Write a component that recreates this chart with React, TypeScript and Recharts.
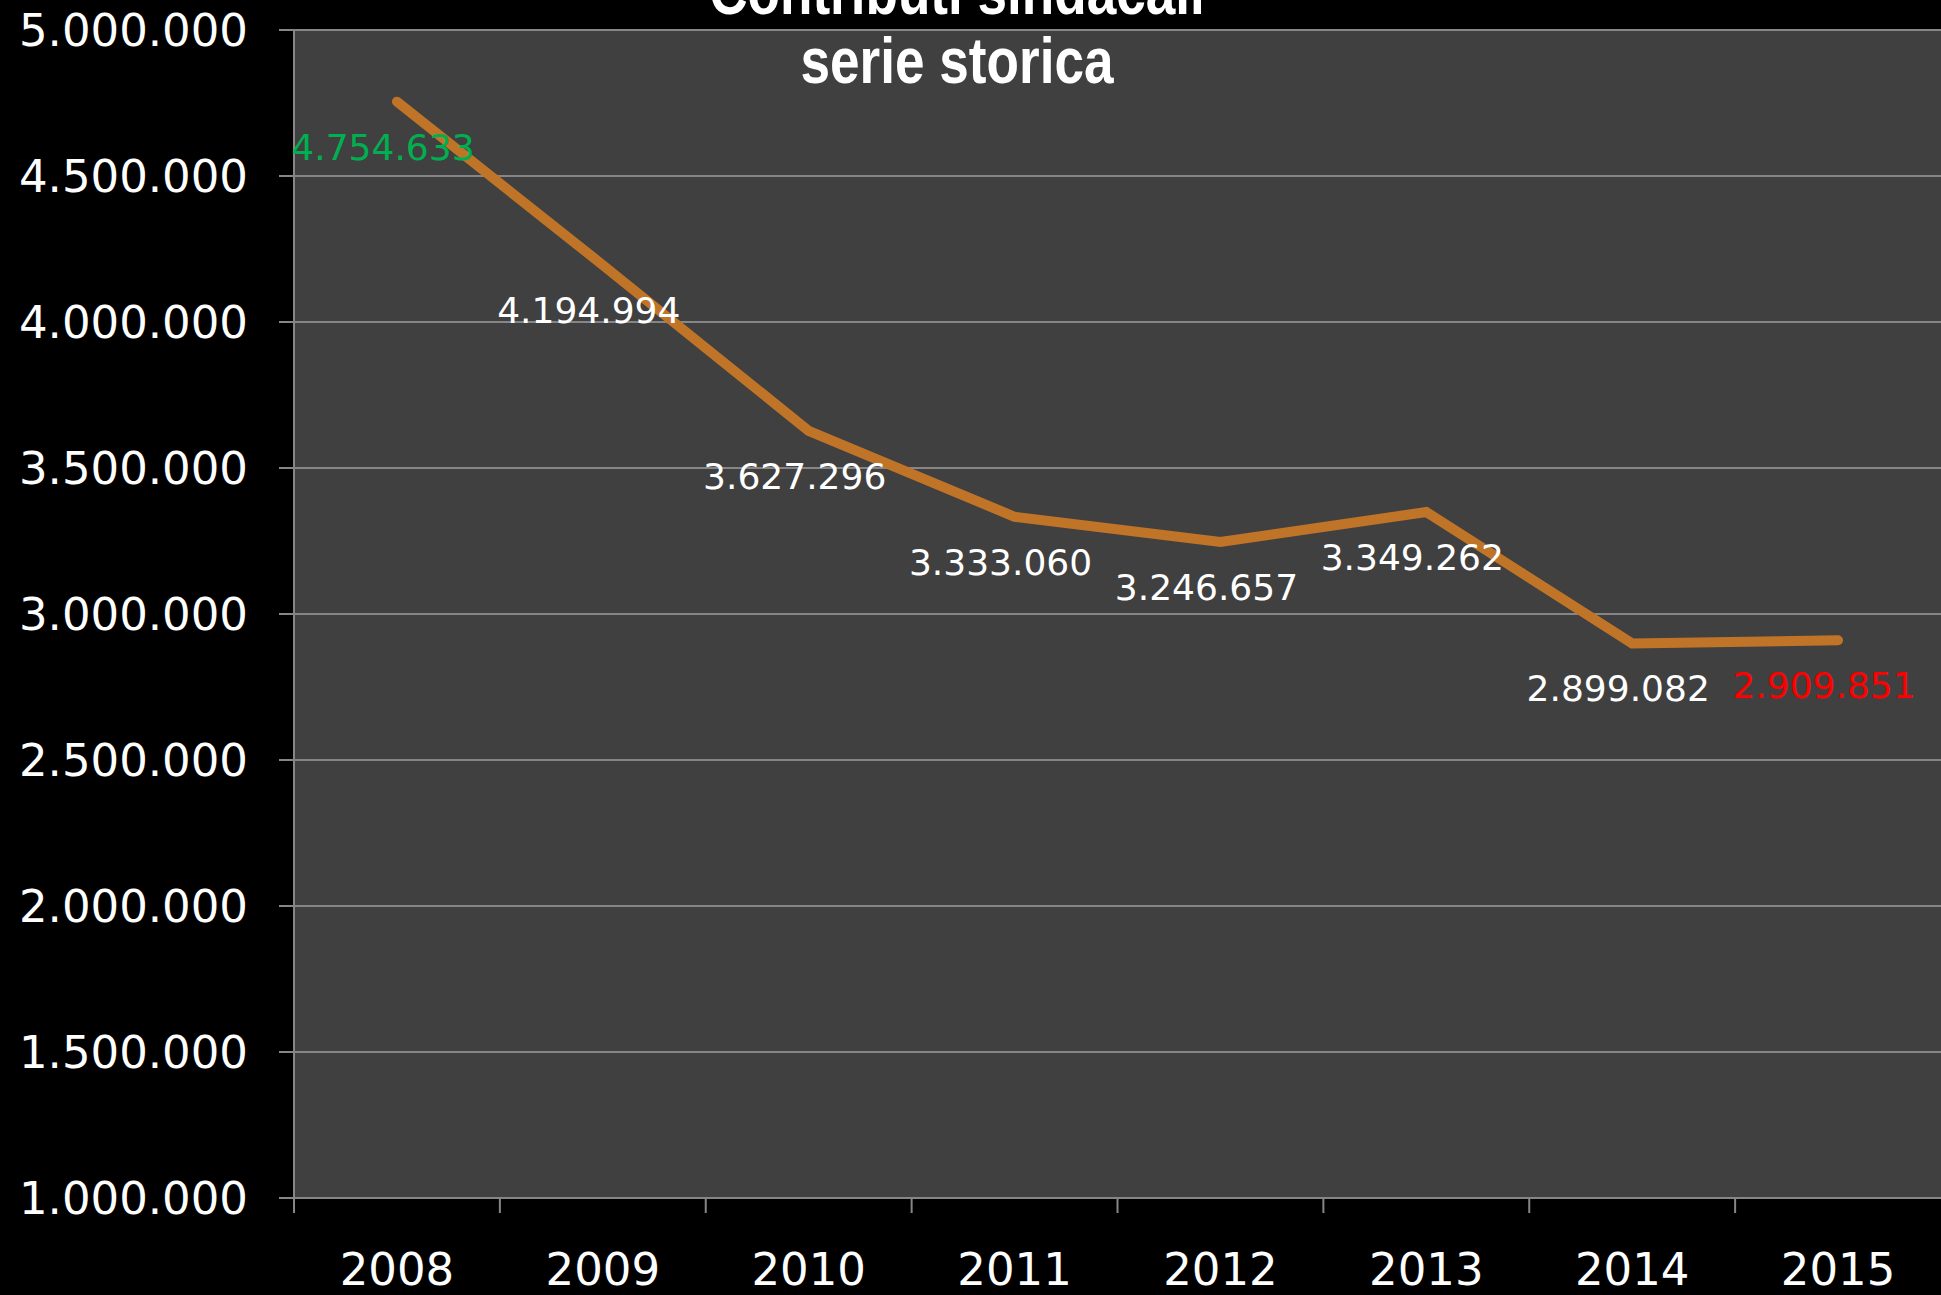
import React from "react";
import { LineChart, Line, XAxis, YAxis, CartesianGrid, LabelList } from "recharts";

const years = ["2008", "2009", "2010", "2011", "2012", "2013", "2014", "2015"];
const contributi = [4754633, 4194994, 3627296, 3333060, 3246657, 3349262, 2899082, 2909851];
const yTicks = [1000000, 1500000, 2000000, 2500000, 3000000, 3500000, 4000000, 4500000, 5000000];
const titleLines = ["Contributi sindacali", "serie storica"];

const data = years.map((y, i) => ({ year: y, value: contributi[i] }));

const W = 1941;
const H = 1295;
const GRID = "#868686";
const FONT = "'DejaVu Sans', sans-serif";

const fmt = (v: number) => v.toString().replace(/\B(?=(\d{3})+(?!\d))/g, ".");

const XTick = (props: any) => {
  const { x, y, payload } = props;
  const half = payload && payload.offset > 0 ? payload.offset : (W - 294) / 16;
  return (
    <g>
      <line x1={x - half} x2={x - half} y1={y} y2={y + 15} stroke={GRID} strokeWidth={2} />
      <text x={x} y={y + 87} textAnchor="middle" fill="#ffffff" fontSize={45} fontFamily={FONT}>
        {payload.value}
      </text>
    </g>
  );
};

const renderLabel = (props: any) => {
  const { x, y, value, index } = props;
  const color = index === 0 ? "#00B050" : index === contributi.length - 1 ? "#FF0000" : "#ffffff";
  return (
    <text x={x - 14} y={y + 58} textAnchor="middle" fill={color} fontSize={36} fontFamily={FONT}>
      {fmt(value)}
    </text>
  );
};

export default function App() {
  return (
    <div style={{ position: "relative", width: W, height: H, background: "#000" }}>
      <style>{"body{margin:0;background:#000;}"}</style>
      <LineChart width={W} height={H} data={data} margin={{ top: 30, right: 0, bottom: 0, left: 0 }}>
        <CartesianGrid vertical={false} fill="#404040" fillOpacity={1} stroke={GRID} strokeWidth={2} />
        <XAxis
          dataKey="year"
          scale="band"
          interval={0}
          height={97}
          tickSize={0}
          tickMargin={0}
          tickLine={false}
          axisLine={{ stroke: GRID, strokeWidth: 2 }}
          tick={<XTick />}
        />
        <YAxis
          type="number"
          domain={[1000000, 5000000]}
          ticks={yTicks}
          allowDataOverflow
          width={294}
          tickSize={15}
          tickMargin={31}
          tickFormatter={fmt}
          axisLine={{ stroke: GRID, strokeWidth: 2 }}
          tickLine={{ stroke: GRID, strokeWidth: 2 }}
          tick={{ fill: "#ffffff", fontSize: 45, fontFamily: FONT }}
        />
        <Line
          type="linear"
          dataKey="value"
          stroke="#C07428"
          strokeWidth={10}
          strokeLinecap="round"
          dot={false}
          activeDot={false}
          isAnimationActive={false}
        >
          <LabelList dataKey="value" content={renderLabel} />
        </Line>
      </LineChart>
      <svg
        width={W}
        height={120}
        style={{ position: "absolute", left: 0, top: 0, pointerEvents: "none" }}
      >
        {titleLines.map((t, i) => (
          <text
            key={t}
            x={0}
            y={0}
            transform={`translate(957 ${14 + i * 69}) scale(0.83 1)`}
            textAnchor="middle"
            fill="#ffffff"
            fontSize={64}
            fontWeight="bold"
            fontFamily="'Liberation Sans', sans-serif"
          >
            {t}
          </text>
        ))}
      </svg>
    </div>
  );
}
